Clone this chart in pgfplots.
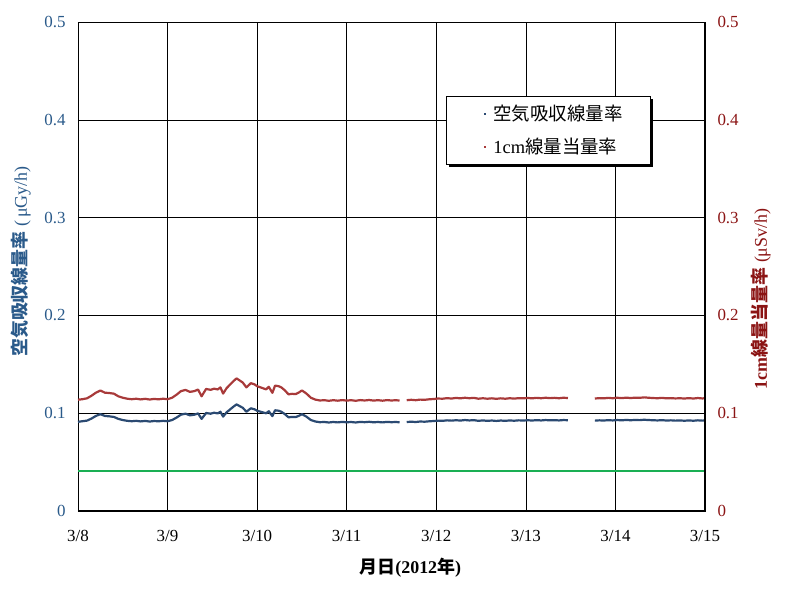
\documentclass[border=0pt]{standalone}
\usepackage{pgfplots}
\pgfplotsset{compat=1.18}
\usepackage{fontspec}
\setmainfont{Liberation Serif}
\newfontfamily\jp{Noto Sans CJK JP}
\usetikzlibrary{shadows}
\definecolor{bser}{HTML}{2B4A72}
\definecolor{rser}{HTML}{A83A3A}
\definecolor{lblue}{HTML}{2A5A8A}
\definecolor{rmar}{HTML}{8B1414}
\definecolor{gline}{HTML}{1AAF54}
\begin{document}
\begin{tikzpicture}
\path[use as bounding box] (-78bp,-81bp) rectangle (707bp,511bp);
\begin{axis}[
  at={(0,0)}, anchor=south west,
  scale only axis, width=627bp, height=489bp,
  xmin=0, xmax=7, ymin=0, ymax=0.5,
  xtick={0,1,2,3,4,5,6,7},
  xticklabels={3/8,3/9,3/10,3/11,3/12,3/13,3/14,3/15},
  ytick={0,0.1,0.2,0.3,0.4,0.5},
  yticklabels={0,0.1,0.2,0.3,0.4,0.5},
  major tick length=0pt,
  grid=major,
  major grid style={black, line width=0.6pt},
  axis line style={black, line width=0.8pt},
  tick label style={font=\fontsize{17}{20}\selectfont},
  yticklabel style={text=lblue, xshift=-9bp},
  xticklabel style={text=black, yshift=-16bp},
  xlabel={\bfseries{\jp 月日}(2012{\jp 年})},
  xlabel style={font=\fontsize{18}{20}\selectfont, at={(axis description cs:0.53,0)}, anchor=center, yshift=-57bp},
  ylabel={{\bfseries\jp 空気吸収線量率}\ (\,μGy/h)},
  ylabel style={font=\fontsize{18}{20}\selectfont, text=lblue, at={(axis description cs:0,0.51)}, anchor=center, yshift=57bp},
  unbounded coords=jump,
  legend style={at={(0.587,0.849)}, anchor=north west, draw=black, line width=0.8pt, fill=white,
    drop shadow={shadow xshift=3bp, shadow yshift=-3bp, fill=black, opacity=1},
    inner xsep=4bp, inner ysep=7bp, row sep=12bp,
    font=\fontsize{18.5}{21}\selectfont},
  legend cell align=left,
  legend image code/.code={\pgfpathrectangle{\pgfpoint{0bp}{-1.2bp}}{\pgfpoint{41bp}{2.4bp}}\pgfusepath{use as bounding box}\pgfpathrectangle{\pgfpoint{33.5bp}{-1.2bp}}{\pgfpoint{2.4bp}{2.4bp}}\pgfusepath{fill}},
  after end axis/.code={\draw[black, line width=1.8pt] (rel axis cs:0,0) -- (rel axis cs:1,0);},
]
\addplot[gline, line width=1.3pt, forget plot] coordinates {(0,0.041) (7,0.041)};
\addplot[bser, line width=2.2bp, line join=round] coordinates {
(0.00,0.0912) (0.05,0.0918) (0.10,0.0924) (0.15,0.0945) (0.20,0.0972) (0.25,0.0990) (0.30,0.0972)
(0.35,0.0968) (0.40,0.0962) (0.45,0.0942) (0.50,0.0930) (0.55,0.0922) (0.60,0.0918) (0.65,0.0922)
(0.70,0.0916) (0.75,0.0921) (0.80,0.0915) (0.85,0.0920) (0.90,0.0917) (0.95,0.0922) (1.00,0.0918)
(1.05,0.0930) (1.10,0.0955) (1.15,0.0985) (1.20,0.0995) (1.25,0.0978) (1.30,0.0985) (1.34,0.0998)
(1.38,0.0942) (1.43,0.1002) (1.48,0.0995) (1.52,0.1005) (1.56,0.0998) (1.59,0.1015) (1.62,0.0965)
(1.66,0.1010) (1.70,0.1040) (1.74,0.1070) (1.77,0.1090) (1.80,0.1075) (1.84,0.1055) (1.88,0.1015)
(1.93,0.1050) (1.97,0.1040) (2.00,0.1025) (2.05,0.1012) (2.10,0.0999) (2.13,0.1020) (2.17,0.0970)
(2.20,0.1030) (2.24,0.1025) (2.27,0.1015) (2.31,0.0990) (2.35,0.0958) (2.39,0.0962) (2.43,0.0960)
(2.47,0.0975) (2.50,0.0990) (2.55,0.0965) (2.60,0.0930) (2.65,0.0915) (2.70,0.0908) (2.75,0.0910)
(2.80,0.0905) (2.85,0.0910) (2.90,0.0906) (2.95,0.0911) (3.00,0.0907) (3.05,0.0910) (3.10,0.0905)
(3.15,0.0911) (3.20,0.0908) (3.25,0.0912) (3.30,0.0907) (3.35,0.0910) (3.40,0.0906) (3.45,0.0911)
(3.50,0.0908) (3.55,0.0910) (3.59,0.0907) (3.63,nan)
(3.67,0.0910) (3.72,0.0913) (3.77,0.0910) (3.82,0.0915) (3.87,0.0913) (3.92,0.0917) (3.97,0.0920)
(4.02,0.0924) (4.07,0.0922) (4.12,0.0927) (4.17,0.0924) (4.22,0.0928) (4.27,0.0925) (4.32,0.0930)
(4.37,0.0926) (4.42,0.0929) (4.47,0.0922) (4.52,0.0926) (4.57,0.0922) (4.62,0.0925) (4.67,0.0921)
(4.72,0.0925) (4.77,0.0922) (4.82,0.0926) (4.87,0.0923) (4.92,0.0927) (4.97,0.0925) (5.02,0.0928)
(5.07,0.0925) (5.12,0.0929) (5.17,0.0926) (5.22,0.0930) (5.27,0.0927) (5.32,0.0929) (5.37,0.0926)
(5.42,0.0930) (5.47,0.0928) (5.62,nan)
(5.77,0.0924) (5.82,0.0927) (5.87,0.0925) (5.92,0.0929) (5.97,0.0926) (6.02,0.0930) (6.07,0.0927)
(6.12,0.0931) (6.17,0.0928) (6.22,0.0931) (6.27,0.0929) (6.32,0.0933) (6.37,0.0930) (6.42,0.0928)
(6.47,0.0926) (6.52,0.0929) (6.57,0.0925) (6.62,0.0927) (6.67,0.0924) (6.72,0.0926) (6.77,0.0923)
(6.82,0.0926) (6.87,0.0923) (6.92,0.0927) (6.97,0.0924) (7.00,0.0926)
};
\addlegendentry{\makebox[151bp][l]{\jp 空気吸収線量率}}
\addplot[rser, line width=2.2bp, line join=round] coordinates {
(0.00,0.1138) (0.05,0.1143) (0.10,0.1152) (0.15,0.1178) (0.20,0.1210) (0.25,0.1232) (0.30,0.1210)
(0.35,0.1206) (0.40,0.1200) (0.45,0.1173) (0.50,0.1158) (0.55,0.1148) (0.60,0.1143) (0.65,0.1148)
(0.70,0.1141) (0.75,0.1147) (0.80,0.1140) (0.85,0.1146) (0.90,0.1142) (0.95,0.1148) (1.00,0.1143)
(1.05,0.1158) (1.10,0.1189) (1.15,0.1226) (1.20,0.1238) (1.25,0.1218) (1.30,0.1226) (1.34,0.1242)
(1.38,0.1173) (1.43,0.1248) (1.48,0.1239) (1.52,0.1251) (1.56,0.1243) (1.59,0.1264) (1.62,0.1201)
(1.66,0.1257) (1.70,0.1295) (1.74,0.1332) (1.77,0.1356) (1.80,0.1338) (1.84,0.1313) (1.88,0.1264)
(1.93,0.1307) (1.97,0.1295) (2.00,0.1276) (2.05,0.1260) (2.10,0.1244) (2.13,0.1270) (2.17,0.1208)
(2.20,0.1282) (2.24,0.1276) (2.27,0.1264) (2.31,0.1233) (2.35,0.1193) (2.39,0.1198) (2.43,0.1195)
(2.47,0.1214) (2.50,0.1233) (2.55,0.1201) (2.60,0.1158) (2.65,0.1139) (2.70,0.1130) (2.75,0.1133)
(2.80,0.1127) (2.85,0.1133) (2.90,0.1128) (2.95,0.1134) (3.00,0.1129) (3.05,0.1133) (3.10,0.1127)
(3.15,0.1134) (3.20,0.1130) (3.25,0.1135) (3.30,0.1129) (3.35,0.1133) (3.40,0.1128) (3.45,0.1134)
(3.50,0.1130) (3.55,0.1133) (3.59,0.1129) (3.63,nan)
(3.67,0.1133) (3.72,0.1137) (3.77,0.1133) (3.82,0.1139) (3.87,0.1137) (3.92,0.1142) (3.97,0.1145)
(4.02,0.1150) (4.07,0.1148) (4.12,0.1154) (4.17,0.1150) (4.22,0.1156) (4.27,0.1152) (4.32,0.1158)
(4.37,0.1153) (4.42,0.1157) (4.47,0.1148) (4.52,0.1153) (4.57,0.1148) (4.62,0.1152) (4.67,0.1147)
(4.72,0.1152) (4.77,0.1148) (4.82,0.1153) (4.87,0.1149) (4.92,0.1154) (4.97,0.1152) (5.02,0.1156)
(5.07,0.1152) (5.12,0.1157) (5.17,0.1153) (5.22,0.1158) (5.27,0.1154) (5.32,0.1157) (5.37,0.1153)
(5.42,0.1158) (5.47,0.1155) (5.62,nan)
(5.77,0.1150) (5.82,0.1154) (5.87,0.1152) (5.92,0.1157) (5.97,0.1153) (6.02,0.1158) (6.07,0.1154)
(6.12,0.1159) (6.17,0.1155) (6.22,0.1159) (6.27,0.1157) (6.32,0.1162) (6.37,0.1158) (6.42,0.1155)
(6.47,0.1153) (6.52,0.1157) (6.57,0.1152) (6.62,0.1154) (6.67,0.1151) (6.72,0.1153) (6.77,0.1150)
(6.82,0.1154) (6.87,0.1150) (6.92,0.1155) (6.97,0.1151) (7.00,0.1153)
};
\addlegendentry{\makebox[151bp][l]{1cm{\jp 線量当量率}}}
\end{axis}
\begin{axis}[
  at={(0,0)}, anchor=south west,
  scale only axis, width=627bp, height=489bp,
  xmin=0, xmax=7, ymin=0, ymax=0.5,
  axis x line=none,
  axis y line*=right,
  axis line style={black, line width=1.8pt, -},
  ytick={0,0.1,0.2,0.3,0.4,0.5},
  yticklabels={0,0.1,0.2,0.3,0.4,0.5},
  major tick length=0pt,
  tick label style={font=\fontsize{17}{20}\selectfont},
  yticklabel style={text=rmar, xshift=9bp},
  ylabel={{\bfseries 1cm\jp 線量当量率}\ (μSv/h)},
  ylabel style={font=\fontsize{18}{20}\selectfont, text=rmar, at={(axis description cs:1,0.434)}, anchor=center, yshift=-56bp},
]
\end{axis}
\end{tikzpicture}
\end{document}
